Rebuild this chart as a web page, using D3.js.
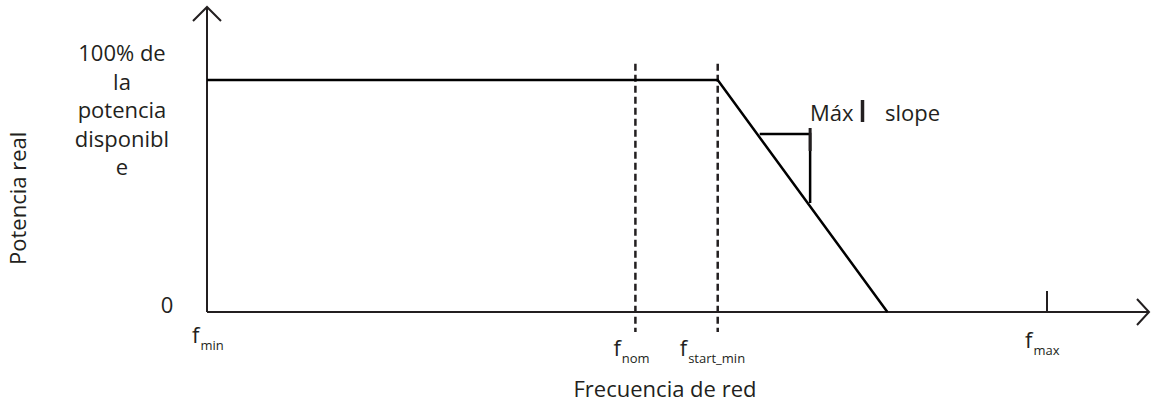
<!DOCTYPE html>
<html lang="es">
<head>
<meta charset="UTF-8">
<title>Potencia real vs frecuencia</title>
<script src="https://d3js.org/d3.v7.min.js"></script>
<style>
  body { margin: 0; background: #fff; }
  text { font-family: "Open Sans", "Noto Sans", sans-serif; fill: #231f20; }
</style>
</head>
<body>
<script>
// frequency markers (abstract units, Hz)
var freqNames = ['min', 'nom', 'start_min', 'max'];
var freqValues = [47, 49.55, 50.04, 52];
// power curve: frequency -> % of available power
var curveFreq = [47, 50.04, 51.05];
var curvePower = [100, 100, 0];
// slope triangle
var slopeFreq = [50.29, 50.59];
var slopePower = [76.7, 47];
var yTickLabels = ['0', '100% de la potencia disponible'];

var width = 1151, height = 406;
var ink = '#231f20';
var fs = 22;

var x = d3.scaleLinear().domain([47, 52]).range([207, 1047]);
var y = d3.scaleLinear().domain([0, 100]).range([312, 80]);

var svg = d3.select('body').append('svg')
    .attr('width', width)
    .attr('height', height);

// axes with arrows
var xEnd = 1149, yEnd = 7;
svg.append('line')
   .attr('x1', x(47)).attr('y1', y(0))
   .attr('x2', xEnd).attr('y2', y(0))
   .attr('stroke', ink).attr('stroke-width', 2);
svg.append('path')
   .attr('d', 'M' + (xEnd - 12) + ',' + (y(0) - 13) + 'L' + xEnd + ',' + y(0) + 'L' + (xEnd - 12) + ',' + (y(0) + 13))
   .attr('fill', 'none').attr('stroke', ink).attr('stroke-width', 2);
svg.append('line')
   .attr('x1', x(47)).attr('y1', y(0))
   .attr('x2', x(47)).attr('y2', yEnd)
   .attr('stroke', ink).attr('stroke-width', 2);
svg.append('path')
   .attr('d', 'M' + (x(47) - 14) + ',' + (yEnd + 14) + 'L' + x(47) + ',' + yEnd + 'L' + (x(47) + 14) + ',' + (yEnd + 14))
   .attr('fill', 'none').attr('stroke', ink).attr('stroke-width', 2);

// dashed verticals at f_nom and f_start_min
[1, 2].forEach(function(i) {
  svg.append('line')
     .attr('x1', x(freqValues[i])).attr('x2', x(freqValues[i]))
     .attr('y1', y(107)).attr('y2', y(-8.6))
     .attr('stroke', ink).attr('stroke-width', 2.5)
     .attr('stroke-dasharray', '7,4');
});

// f_max tick
svg.append('line')
   .attr('x1', x(freqValues[3])).attr('x2', x(freqValues[3]))
   .attr('y1', y(0)).attr('y2', y(9))
   .attr('stroke', ink).attr('stroke-width', 2);

// power curve
var line = d3.line()
   .x(function(d) { return x(d[0]); })
   .y(function(d) { return y(d[1]); });
svg.append('path')
   .datum(d3.zip(curveFreq, curvePower))
   .attr('d', line)
   .attr('fill', 'none')
   .attr('stroke', '#000')
   .attr('stroke-width', 2.5);

// slope triangle
svg.append('path')
   .datum([[slopeFreq[0], slopePower[0]], [slopeFreq[1], slopePower[0]], [slopeFreq[1], slopePower[1]]])
   .attr('d', line)
   .attr('fill', 'none')
   .attr('stroke', '#000')
   .attr('stroke-width', 2.5);
svg.append('line')
   .attr('x1', x(slopeFreq[1])).attr('x2', x(slopeFreq[1]))
   .attr('y1', 128).attr('y2', 151)
   .attr('stroke', ink).attr('stroke-width', 3);

// slope label
svg.append('text').attr('x', 810).attr('y', 121)
   .attr('font-size', fs).text('Máx');
svg.append('line')
   .attr('x1', 862.5).attr('x2', 862.5).attr('y1', 100).attr('y2', 122)
   .attr('stroke', ink).attr('stroke-width', 3.5);
svg.append('text').attr('x', 885).attr('y', 121)
   .attr('font-size', fs).text('slope');

// y tick labels
svg.append('text').attr('x', 167).attr('y', 313)
   .attr('text-anchor', 'middle')
   .attr('font-size', fs).text(yTickLabels[0]);
var wrapped = ['100% de', 'la', 'potencia', 'disponibl', 'e'];
svg.append('text')
   .attr('text-anchor', 'middle').attr('font-size', fs)
   .selectAll('tspan').data(wrapped).enter().append('tspan')
   .attr('x', 122)
   .attr('y', function(d, i) { return 61 + i * 28.5; })
   .text(function(d) { return d; });

// frequency labels (hand placed like the original drawing)
var labelLayout = [{dx: -15, y: 343}, {dx: -22, y: 356}, {dx: -38, y: 356}, {dx: -22, y: 348}];
freqNames.forEach(function(n, i) {
  var t = svg.append('text')
     .attr('x', x(freqValues[i]) + labelLayout[i].dx)
     .attr('y', labelLayout[i].y)
     .attr('font-size', fs);
  t.append('tspan').text('f');
  t.append('tspan').attr('dy', 7).attr('dx', 1).attr('font-size', 13).text(n);
});

// axis titles
svg.append('text')
   .attr('x', 665).attr('y', 397)
   .attr('text-anchor', 'middle').attr('font-size', fs)
   .text('Frecuencia de red');
svg.append('text')
   .attr('transform', 'translate(26,265) rotate(-90)')
   .attr('text-anchor', 'start').attr('font-size', fs)
   .text('Potencia real');
</script>
</body>
</html>
